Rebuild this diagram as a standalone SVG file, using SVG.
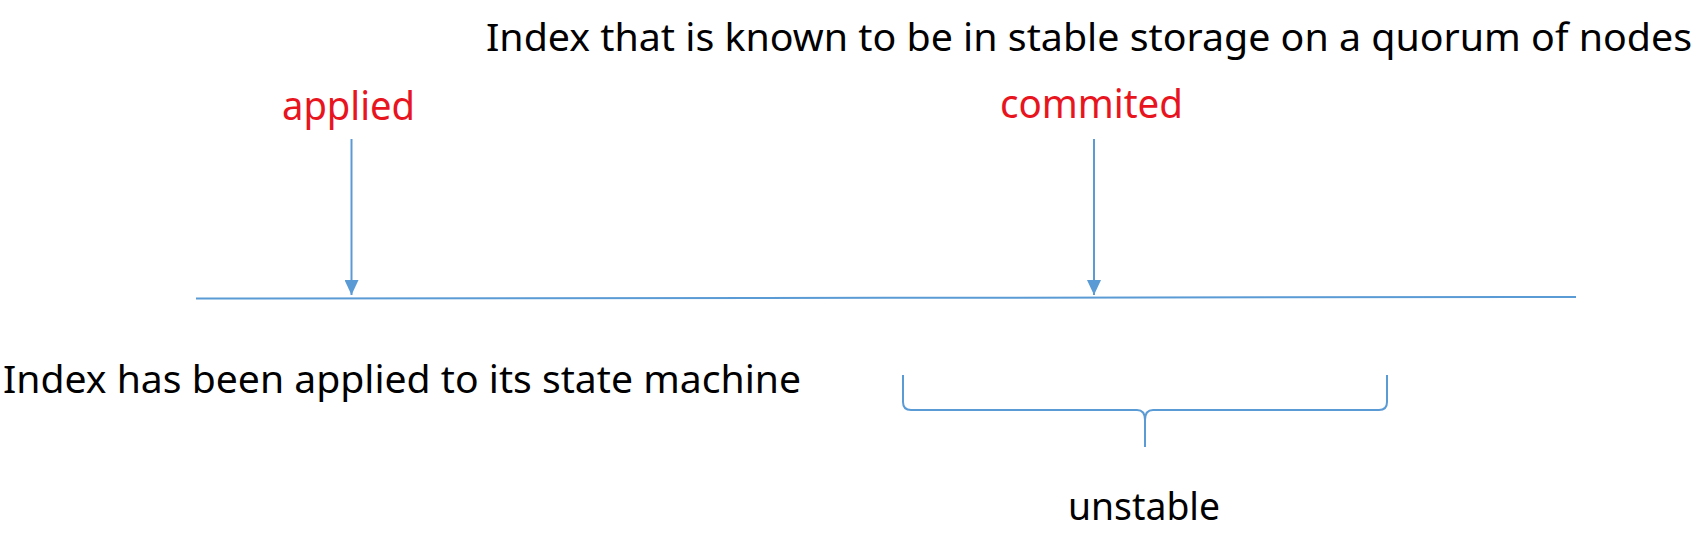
<svg xmlns="http://www.w3.org/2000/svg" width="1704" height="542" viewBox="0 0 1704 542">
<style>
.t{font-family:"Noto Sans","Open Sans","Liberation Sans",sans-serif;font-size:38px;fill:#000}
.r{font-family:"Noto Sans","Open Sans","Liberation Sans",sans-serif;font-size:40px;fill:#E8141E}
.ln{stroke:#5B9BD5;stroke-width:2;fill:none}
</style>
<defs>
<marker id="ah" markerUnits="userSpaceOnUse" markerWidth="14" markerHeight="16" refX="7" refY="15" orient="auto" viewBox="0 0 14 16">
<path d="M0,0 L14,0 L7,15 Z" fill="#5B9BD5" transform="rotate(-90 7 8)"/>
</marker>
<marker id="arr" markerUnits="userSpaceOnUse" markerWidth="16" markerHeight="14" refX="15" refY="7" orient="auto" viewBox="0 0 16 14">
<path d="M0,0 L15,7 L0,14 Z" fill="#5B9BD5"/>
</marker>
</defs>
<rect width="1704" height="542" fill="#fff"/>
<g id="top-label"><text class="t" x="486" y="51" textLength="1206" lengthAdjust="spacingAndGlyphs">Index that is known to be in stable storage on a quorum of nodes</text></g>
<g id="applied"><text class="r" x="282" y="120" textLength="133" lengthAdjust="spacingAndGlyphs">applied</text></g>
<g id="commited"><text class="r" x="1000" y="118" textLength="183" lengthAdjust="spacingAndGlyphs">commited</text></g>
<g id="timeline"><path class="ln" d="M196,298.5 L886,297.8 L1576,297"/></g>
<g id="applied-desc"><text class="t" x="3" y="393" textLength="798" lengthAdjust="spacingAndGlyphs">Index has been applied to its state machine</text></g>
<g id="unstable"><path class="ln" d="M903,375 L903,402 Q903,410 911,410 L1137,410 Q1145,410 1145,420 L1145,447 M1145,420 Q1145,410 1153,410 L1379,410 Q1387,410 1387,402 L1387,375"/>
<text class="t" x="1068" y="520" textLength="152" lengthAdjust="spacingAndGlyphs">unstable</text></g>
<g id="connectors">
<path class="ln" d="M351.5,139 L351.5,295" marker-end="url(#arr)"/>
<path class="ln" d="M1094,139 L1094,295" marker-end="url(#arr)"/>
</g>
</svg>
